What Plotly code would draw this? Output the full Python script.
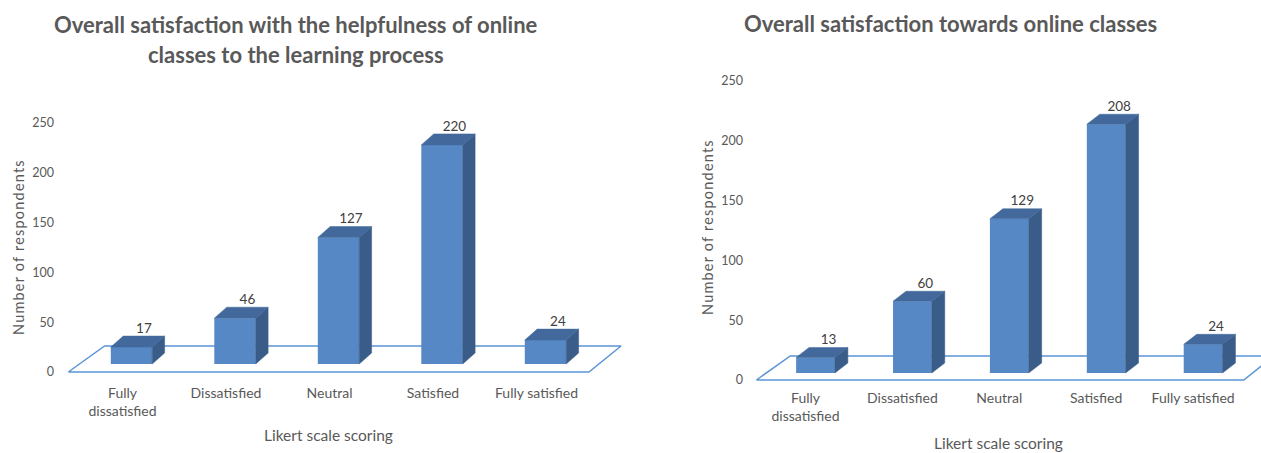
import plotly.graph_objects as go

# ---------------- data ----------------
CATEGORIES = ["Fully<br>dissatisfied", "Dissatisfied", "Neutral", "Satisfied", "Fully satisfied"]
HELPFULNESS = [17, 46, 127, 220, 24]
SATISFACTION = [13, 60, 129, 208, 24]
Y_TICKS = [0, 50, 100, 150, 200, 250]
TITLE_LEFT = ["Overall satisfaction with the helpfulness of online",
              "classes to the learning process"]
TITLE_RIGHT = "Overall satisfaction towards online classes"
X_TITLE = "Likert scale scoring"
Y_TITLE = "Number of respondents"

# ---------------- style ----------------
W, H = 1261, 453
FRONT = "#5588c4"
TOP = "#43699c"
SIDE = "#3a5c88"
FLOOR = "#5b95d6"
TEXT = "#595959"
LABEL = "#404040"
FONT = "Lato"


def px_x(p):
    return p / W


def px_y(p):
    return 1 - p / H


panels = [
    dict(values=HELPFULNESS, xdom=(20, 650), ydom=(100, 380), c0=131.5, step=103.5,
         scale=0.996, zero_tick=372, base=364, dx=0.12, dy_px=11, floor_back_px=26,
         ypos=54, shift=-9, standoff=3, xa="x", ya="y", ya2="y2"),
    dict(values=SATISFACTION, xdom=(712, 1261), ydom=(60, 388), c0=815.5, step=96.9,
         scale=1.196, zero_tick=380, base=373, dx=0.134, dy_px=10, floor_back_px=24,
         ypos=743, shift=-10, standoff=0, xa="x2", ya="y3", ya2="y4"),
]

fig = go.Figure()
n = len(CATEGORIES)
half = 0.2
layout_axes = {}

for p in panels:
    vals = p["values"]
    xs = list(range(n))
    dy = p["dy_px"] / p["scale"]
    dx = p["dx"]

    # floor (on tick axis)
    fb = p["floor_back_px"] / p["scale"]
    fx = [-0.61, n - 1 + 0.42, n - 1 + 0.73, -0.26, -0.61]
    fy = [0, 0, fb, fb, 0]
    fig.add_trace(go.Scatter(x=fx, y=fy, mode="lines", line=dict(color=FLOOR, width=1.5),
                             xaxis=p["xa"], yaxis=p["ya"], hoverinfo="skip", showlegend=False))

    # front faces
    fig.add_trace(go.Bar(x=xs, y=vals, width=2 * half, marker=dict(color=FRONT, line=dict(width=0)),
                         xaxis=p["xa"], yaxis=p["ya2"], showlegend=False))
    # side and top faces
    sx, sy, tx, ty = [], [], [], []
    for c, v in zip(xs, vals):
        sx += [c + half, c + half, c + half + dx, c + half + dx, c + half, None]
        sy += [0, v, v + dy, dy, 0, None]
        tx += [c - half, c + half, c + half + dx, c - half + dx, c - half, None]
        ty += [v, v, v + dy, v + dy, v, None]
    fig.add_trace(go.Scatter(x=sx, y=sy, mode="lines", fill="toself", fillcolor=SIDE,
                             line=dict(color=SIDE, width=0.5), xaxis=p["xa"], yaxis=p["ya2"],
                             hoverinfo="skip", showlegend=False))
    fig.add_trace(go.Scatter(x=tx, y=ty, mode="lines", fill="toself", fillcolor=TOP,
                             line=dict(color=TOP, width=0.5), xaxis=p["xa"], yaxis=p["ya2"],
                             hoverinfo="skip", showlegend=False))
    # value labels
    fig.add_trace(go.Scatter(x=[c + dx for c in xs], y=[v + dy for v in vals],
                             mode="text", text=[str(v) for v in vals], textposition="top center",
                             textfont=dict(family=FONT, size=13.5, color=LABEL), cliponaxis=False,
                             xaxis=p["xa"], yaxis=p["ya2"], hoverinfo="skip", showlegend=False))

    xr = [(p["xdom"][0] - p["c0"]) / p["step"], (p["xdom"][1] - p["c0"]) / p["step"]]
    yr = [(p["zero_tick"] - p["ydom"][1]) / p["scale"], (p["zero_tick"] - p["ydom"][0]) / p["scale"]]
    yr2 = [(p["base"] - p["ydom"][1]) / p["scale"], (p["base"] - p["ydom"][0]) / p["scale"]]
    xdom = [px_x(p["xdom"][0]), px_x(p["xdom"][1])]
    ydom = [px_y(p["ydom"][1]), px_y(p["ydom"][0])]

    xkey = "xaxis" if p["xa"] == "x" else "xaxis" + p["xa"][1:]
    ykey = "yaxis" if p["ya"] == "y" else "yaxis" + p["ya"][1:]
    y2key = "yaxis" + p["ya2"][1:]
    layout_axes[xkey] = dict(domain=xdom, range=xr, anchor=p["ya"], tickmode="array",
                             tickvals=xs, ticktext=CATEGORIES, showgrid=False, zeroline=False,
                             showline=False, ticks="", ticklabelshift=p["shift"],
                             ticklabelstandoff=p["standoff"],
                             tickfont=dict(family=FONT, size=14, color=TEXT), fixedrange=True)
    layout_axes[ykey] = dict(domain=ydom, range=yr, anchor="free", position=px_x(p["ypos"]),
                             tickmode="array", tickvals=Y_TICKS, showgrid=False, zeroline=False,
                             showline=False, ticks="",
                             tickfont=dict(family=FONT, size=12.5, color=TEXT), fixedrange=True)
    layout_axes[y2key] = dict(range=yr2, overlaying=p["ya"], visible=False, fixedrange=True)

annotations = [
    dict(text=TITLE_LEFT[0], x=px_x(296), y=px_y(25)),
    dict(text=TITLE_LEFT[1], x=px_x(296), y=px_y(55)),
    dict(text=TITLE_RIGHT, x=px_x(950), y=px_y(23)),
]
annotations = [dict(a, xref="paper", yref="paper", showarrow=False, xanchor="center", yanchor="middle",
                    font=dict(family=FONT, size=22, color=TEXT, weight="bold")) for a in annotations]
for (x, y) in [(328, 435), (998, 443)]:
    annotations.append(dict(text=X_TITLE, x=px_x(x), y=px_y(y), xref="paper", yref="paper",
                            showarrow=False, xanchor="center", yanchor="middle",
                            font=dict(family=FONT, size=15.5, color=TEXT)))
for (x, y) in [(18, 247), (707, 227)]:
    annotations.append(dict(text='<span style="letter-spacing:1.2px">' + Y_TITLE + '</span>',
                            x=px_x(x), y=px_y(y), xref="paper", yref="paper",
                            showarrow=False, xanchor="center", yanchor="middle", textangle=-90,
                            font=dict(family=FONT, size=14.5, color=TEXT)))

fig.update_layout(width=W, height=H, margin=dict(l=0, r=0, t=0, b=0),
                  paper_bgcolor="white", plot_bgcolor="white", showlegend=False,
                  annotations=annotations, barmode="overlay", **layout_axes)

fig.write_html("out.html", config={"displayModeBar": False},
               post_script="document.body.style.margin='0px';document.body.style.overflow='hidden';")
